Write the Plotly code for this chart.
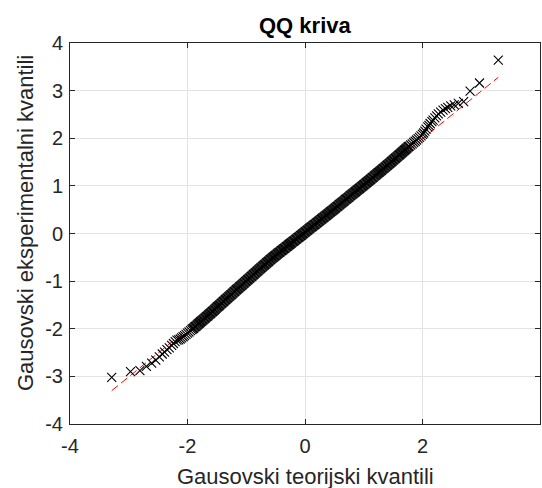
import plotly.graph_objects as go

# ---- data (theoretical vs sample quantiles) ----
lower_x = [-3.29, -2.97, -2.81, -2.70, -2.61, -2.54, -2.48, -2.43, -2.39, -2.35,
           -2.31, -2.27, -2.24, -2.21, -2.18]
lower_y = [-3.02, -2.90, -2.88, -2.79, -2.72, -2.66, -2.59, -2.53, -2.49, -2.44,
           -2.40, -2.35, -2.31, -2.27, -2.24]

mid_x = [-2.150, -2.125, -2.100, -2.075, -2.050, -2.025, -2.000, -1.975, -1.950, -1.925,
         -1.900, -1.875, -1.850, -1.825, -1.800, -1.775, -1.750, -1.725, -1.700, -1.675,
         -1.650, -1.625, -1.600, -1.575, -1.550, -1.525, -1.500, -1.475, -1.450, -1.425,
         -1.400, -1.375, -1.350, -1.325, -1.300, -1.275, -1.250, -1.225, -1.200, -1.175,
         -1.150, -1.125, -1.100, -1.075, -1.050, -1.025, -1.000, -0.975, -0.950, -0.925,
         -0.900, -0.875, -0.850, -0.825, -0.800, -0.775, -0.750, -0.725, -0.700, -0.675,
         -0.650, -0.625, -0.600, -0.575, -0.550, -0.525, -0.500, -0.475, -0.450, -0.425,
         -0.400, -0.375, -0.350, -0.325, -0.300, -0.275, -0.250, -0.225, -0.200, -0.175,
         -0.150, -0.125, -0.100, -0.075, -0.050, -0.025, 0.000, 0.025, 0.050, 0.075,
         0.100, 0.125, 0.150, 0.175, 0.200, 0.225, 0.250, 0.275, 0.300, 0.325,
         0.350, 0.375, 0.400, 0.425, 0.450, 0.475, 0.500, 0.525, 0.550, 0.575,
         0.600, 0.625, 0.650, 0.675, 0.700, 0.725, 0.750, 0.775, 0.800, 0.825,
         0.850, 0.875, 0.900, 0.925, 0.950, 0.975, 1.000, 1.025, 1.050, 1.075,
         1.100, 1.125, 1.150, 1.175, 1.200, 1.225, 1.250, 1.275, 1.300, 1.325,
         1.350, 1.375, 1.400, 1.425, 1.450, 1.475, 1.500, 1.525, 1.550, 1.575,
         1.600, 1.625, 1.650, 1.675, 1.700, 1.725, 1.750, 1.775, 1.800, 1.825,
         1.850, 1.875, 1.900, 1.925, 1.950]
mid_y = [-2.235, -2.215, -2.190, -2.168, -2.143, -2.118, -2.092, -2.068, -2.041, -2.018,
         -1.990, -1.962, -1.938, -1.909, -1.884, -1.853, -1.829, -1.801, -1.774, -1.746,
         -1.722, -1.691, -1.667, -1.638, -1.612, -1.581, -1.553, -1.524, -1.498, -1.468,
         -1.443, -1.414, -1.386, -1.358, -1.331, -1.303, -1.276, -1.246, -1.219, -1.191,
         -1.163, -1.137, -1.108, -1.082, -1.054, -1.027, -0.998, -0.971, -0.944, -0.915,
         -0.888, -0.861, -0.832, -0.806, -0.778, -0.750, -0.724, -0.695, -0.669, -0.642,
         -0.614, -0.588, -0.561, -0.534, -0.508, -0.483, -0.459, -0.433, -0.409, -0.385,
         -0.360, -0.336, -0.312, -0.287, -0.264, -0.238, -0.215, -0.190, -0.167, -0.143,
         -0.119, -0.094, -0.071, -0.045, -0.021, 0.004, 0.029, 0.054, 0.078, 0.103,
         0.127, 0.151, 0.176, 0.199, 0.224, 0.248, 0.272, 0.297, 0.321, 0.346,
         0.371, 0.394, 0.419, 0.444, 0.468, 0.493, 0.519, 0.543, 0.569, 0.594,
         0.620, 0.644, 0.671, 0.695, 0.721, 0.745, 0.771, 0.796, 0.822, 0.846,
         0.871, 0.895, 0.921, 0.945, 0.970, 0.995, 1.020, 1.046, 1.071, 1.097,
         1.122, 1.148, 1.174, 1.199, 1.225, 1.251, 1.277, 1.302, 1.328, 1.355,
         1.380, 1.406, 1.433, 1.459, 1.485, 1.512, 1.539, 1.566, 1.592, 1.620,
         1.646, 1.674, 1.701, 1.729, 1.756, 1.784, 1.812, 1.836, 1.858, 1.884,
         1.911, 1.937, 1.963, 1.992, 2.020]

# extra samples in the dense (solid) part of the band
dense_x = [-1.9125, -1.8875, -1.8625, -1.8375, -1.8125, -1.7875, -1.7625, -1.7375, -1.7125, -1.6875,
           -1.6625, -1.6375, -1.6125, -1.5875, -1.5625, -1.5375, -1.5125, -1.4875, -1.4625, -1.4375,
           -1.4125, -1.3875, -1.3625, -1.3375, -1.3125, -1.2875, -1.2625, -1.2375, -1.2125, -1.1875,
           -1.1625, -1.1375, -1.1125, -1.0875, -1.0625, -1.0375, -1.0125, -0.9875, -0.9625, -0.9375,
           -0.9125, -0.8875, -0.8625, -0.8375, -0.8125, -0.7875, -0.7625, -0.7375, -0.7125, -0.6875,
           -0.6625, -0.6375, -0.6125, -0.5875, -0.5625, -0.5375, -0.5125, -0.4875, -0.4625, -0.4375,
           -0.4125, -0.3875, -0.3625, -0.3375, -0.3125, -0.2875, -0.2625, -0.2375, -0.2125, -0.1875,
           -0.1625, -0.1375, -0.1125, -0.0875, -0.0625, -0.0375, -0.0125, 0.0125, 0.0375, 0.0625,
           0.0875, 0.1125, 0.1375, 0.1625, 0.1875, 0.2125, 0.2375, 0.2625, 0.2875, 0.3125,
           0.3375, 0.3625, 0.3875, 0.4125, 0.4375, 0.4625, 0.4875, 0.5125, 0.5375, 0.5625,
           0.5875, 0.6125, 0.6375, 0.6625, 0.6875, 0.7125, 0.7375, 0.7625, 0.7875, 0.8125,
           0.8375, 0.8625, 0.8875, 0.9125, 0.9375, 0.9625, 0.9875, 1.0125, 1.0375, 1.0625,
           1.0875, 1.1125, 1.1375, 1.1625, 1.1875, 1.2125, 1.2375, 1.2625, 1.2875, 1.3125,
           1.3375, 1.3625, 1.3875, 1.4125, 1.4375, 1.4625, 1.4875, 1.5125, 1.5375, 1.5625,
           1.5875, 1.6125, 1.6375, 1.6625, 1.6875, 1.7125, 1.7375, 1.7625]
dense_y = [-2.003, -1.977, -1.949, -1.925, -1.895, -1.869, -1.842, -1.814, -1.789, -1.759,
           -1.735, -1.705, -1.680, -1.651, -1.626, -1.596, -1.568, -1.538, -1.512, -1.482,
           -1.457, -1.428, -1.401, -1.371, -1.345, -1.316, -1.290, -1.262, -1.232, -1.206,
           -1.176, -1.151, -1.121, -1.096, -1.067, -1.041, -1.012, -0.985, -0.957, -0.930,
           -0.901, -0.875, -0.846, -0.820, -0.791, -0.765, -0.736, -0.710, -0.681, -0.656,
           -0.627, -0.602, -0.574, -0.548, -0.520, -0.496, -0.470, -0.447, -0.420, -0.398,
           -0.372, -0.349, -0.323, -0.300, -0.275, -0.252, -0.226, -0.203, -0.178, -0.156,
           -0.130, -0.107, -0.082, -0.059, -0.032, -0.009, 0.017, 0.041, 0.067, 0.090,
           0.116, 0.138, 0.164, 0.187, 0.212, 0.235, 0.261, 0.284, 0.310, 0.333,
           0.359, 0.382, 0.407, 0.431, 0.457, 0.480, 0.507, 0.530, 0.557, 0.581,
           0.608, 0.631, 0.658, 0.682, 0.709, 0.732, 0.759, 0.783, 0.810, 0.833,
           0.859, 0.882, 0.909, 0.932, 0.958, 0.982, 1.008, 1.032, 1.059, 1.083,
           1.110, 1.134, 1.162, 1.186, 1.213, 1.237, 1.265, 1.289, 1.316, 1.341,
           1.368, 1.392, 1.420, 1.445, 1.473, 1.498, 1.526, 1.552, 1.580, 1.605,
           1.634, 1.659, 1.688, 1.714, 1.743, 1.769, 1.799, 1.823]

upper_x = [1.975, 2.00, 2.02, 2.04, 2.06, 2.09, 2.11, 2.13, 2.16, 2.18, 2.21, 2.24,
           2.27, 2.31, 2.35, 2.39, 2.43, 2.48, 2.54, 2.61, 2.70, 2.81, 2.97, 3.29]
upper_y = [2.05, 2.08, 2.11, 2.15, 2.19, 2.24, 2.27, 2.31, 2.35, 2.38, 2.43, 2.47,
           2.51, 2.55, 2.59, 2.62, 2.65, 2.68, 2.70, 2.73, 2.77, 2.99, 3.16, 3.64]

ref_x = [-3.29, 3.29]
ref_y = [-3.30, 3.28]

tick_vals_x = [-4, -2, 0, 2, 4]
tick_text_x = ["-4", "-2", "0", "2", "4"]
tick_vals_y = [-4, -3, -2, -1, 0, 1, 2, 3, 4]
tick_text_y = ["-4", "-3", "-2", "-1", "0", "1", "2", "3", "4"]

title_text = "QQ kriva"
x_label = "Gausovski teorijski kvantili"
y_label = "Gausovski eksperimentalni kvantili"

qx = lower_x + mid_x + dense_x + upper_x
qy = lower_y + mid_y + dense_y + upper_y

FONT = "Liberation Sans, Arial, Helvetica, sans-serif"
AX = "#262626"

fig = go.Figure()
fig.add_trace(go.Scatter(x=ref_x, y=ref_y, mode="lines",
                         line=dict(color="#ff0000", width=1, dash="8px,4px"),
                         hoverinfo="skip", showlegend=False))
fig.add_trace(go.Scatter(x=qx, y=qy, mode="markers",
                         marker=dict(symbol="x-thin", size=9, color="black",
                                     line=dict(width=1.1, color="black")),
                         showlegend=False))

axis_common = dict(range=[-4, 4], showline=True, linecolor=AX, linewidth=1,
                   mirror="ticks", ticks="inside", ticklen=5, tickcolor=AX,
                   showgrid=True, gridcolor="#e3e3e3", gridwidth=1, zeroline=False,
                   tickfont=dict(family=FONT, size=20, color=AX), fixedrange=True)

fig.update_layout(
    width=542, height=488,
    margin=dict(l=70, r=2, t=43, b=64),
    paper_bgcolor="white", plot_bgcolor="white",
    font=dict(family=FONT, color=AX),
    xaxis=dict(tickvals=tick_vals_x, ticktext=tick_text_x, ticklabelstandoff=4, **axis_common),
    yaxis=dict(tickvals=tick_vals_y, ticktext=tick_text_y, ticklabelstandoff=2, **axis_common),
    annotations=[
        dict(text="<b>" + title_text + "</b>", xref="paper", yref="paper",
             x=0.5, y=(424 - 26) / 381, xanchor="center", yanchor="middle",
             showarrow=False, font=dict(family=FONT, size=22, color="black")),
        dict(text=x_label, xref="paper", yref="paper",
             x=0.5, y=(424 - 476) / 381, xanchor="center", yanchor="middle",
             showarrow=False, font=dict(family=FONT, size=22, color=AX)),
        dict(text=y_label, xref="paper", yref="paper", textangle=-90,
             x=0, xshift=-45, y=(424 - 223) / 381, xanchor="center", yanchor="middle",
             showarrow=False, font=dict(family=FONT, size=22, color=AX)),
    ],
)

fig.write_html("out.html", config={"displayModeBar": False},
               post_script="document.body.style.margin='0';document.body.style.overflow='hidden';")
